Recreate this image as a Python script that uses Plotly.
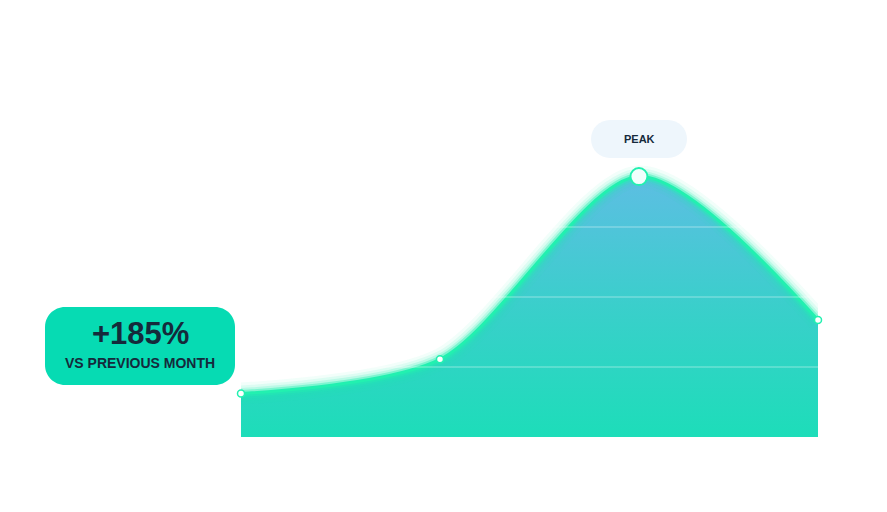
import plotly.graph_objects as go

# ---- data ----
days = [1, 11, 21, 30]
values = [62, 111, 372, 167]
grid_values = [100, 200, 300]
badge_main = "+185%"
badge_sub = "VS PREVIOUS MONTH"
peak_label = "PEAK"

# ---- layout geometry (pixels, page is offset by 8px) ----
OFF = 8
W_FIG, H_FIG = 887, 512
L, R = 241 - OFF, 818 - OFF      # plot area left/right px
T, B = 87 - OFF, 437 - OFF       # plot area top/bottom px
Y_MAX = 500
SMOOTH = 0.8

def px_x(px):
    return (px - OFF - L) / (R - L)

def px_y(py):
    return (B - (py - OFF)) / (B - T)

def rounded_rect(x0, y0, x1, y1, r):
    k = 0.5523 * r
    def P(x, y):
        return f"{px_x(x):.5f},{px_y(y):.5f}"
    p = f"M {P(x0 + r, y0)} L {P(x1 - r, y0)} "
    p += f"C {P(x1 - r + k, y0)} {P(x1, y0 + r - k)} {P(x1, y0 + r)} "
    p += f"L {P(x1, y1 - r)} "
    p += f"C {P(x1, y1 - r + k)} {P(x1 - r + k, y1)} {P(x1 - r, y1)} "
    p += f"L {P(x0 + r, y1)} "
    p += f"C {P(x0 + r - k, y1)} {P(x0, y1 - r + k)} {P(x0, y1 - r)} "
    p += f"L {P(x0, y0 + r)} "
    p += f"C {P(x0, y0 + r - k)} {P(x0 + r - k, y0)} {P(x0 + r, y0)} Z"
    return p

peak_i = values.index(max(values))
LINE = "#22F0B0"

fig = go.Figure()

# filled area with vertical gradient
fig.add_trace(go.Scatter(
    x=days, y=values, mode="lines", fill="tozeroy",
    line=dict(shape="spline", smoothing=SMOOTH, width=0, color="rgba(0,0,0,0)"),
    fillgradient=dict(type="vertical", start=0, stop=max(values),
                      colorscale=[[0, "#1DDDB9"], [0.5, "#3ACFCB"], [1, "#5DBEE3"]]),
    hoverinfo="skip", showlegend=False,
))

# glow layers
for w, a in [(22, 0.06), (16, 0.10), (11, 0.18), (7, 0.40)]:
    fig.add_trace(go.Scatter(
        x=days, y=values, mode="lines",
        line=dict(shape="spline", smoothing=SMOOTH, width=w, color=f"rgba(34,240,176,{a})"),
        hoverinfo="skip", showlegend=False,
    ))
# core line
fig.add_trace(go.Scatter(
    x=days, y=values, mode="lines",
    line=dict(shape="spline", smoothing=SMOOTH, width=3, color=LINE),
    hoverinfo="skip", showlegend=False,
))

# markers
sizes = [17 if i == peak_i else 7 for i in range(len(values))]
fills = ["#F2FFFD" if i == peak_i else "#FFFFFF" for i in range(len(values))]
lws = [2 if i == peak_i else 1.5 for i in range(len(values))]
fig.add_trace(go.Scatter(
    x=days, y=values, mode="markers", cliponaxis=False,
    marker=dict(size=sizes, color=fills, opacity=1, line=dict(color=LINE, width=lws)),
    hoverinfo="skip", showlegend=False,
))

shapes = []
for gv in grid_values:
    shapes.append(dict(type="line", xref="paper", yref="y", x0=0, x1=1, y0=gv, y1=gv,
                       line=dict(color="rgba(255,255,255,0.22)", width=2), layer="above"))
# badge
shapes.append(dict(type="path", xref="paper", yref="paper",
                   path=rounded_rect(45, 307, 235, 385, 20),
                   fillcolor="#06DBB3", line=dict(width=0), layer="above"))
# peak pill
shapes.append(dict(type="path", xref="paper", yref="paper",
                   path=rounded_rect(591, 120, 687, 158, 19),
                   fillcolor="#EEF6FC", line=dict(width=0), layer="above"))

FONT = "Liberation Sans"
TXT = "#152A3B"
annotations = [
    dict(x=px_x(140), y=px_y(333), xref="paper", yref="paper", text=f"<b>{badge_main}</b>",
         showarrow=False, font=dict(family=FONT, size=31, color=TXT), xanchor="center", yanchor="middle"),
    dict(x=px_x(140), y=px_y(363), xref="paper", yref="paper", text=f"<b>{badge_sub}</b>",
         showarrow=False, font=dict(family=FONT, size=14, color=TXT), xanchor="center", yanchor="middle"),
    dict(x=px_x(639), y=px_y(139), xref="paper", yref="paper", text=f"<b>{peak_label}</b>",
         showarrow=False, font=dict(family=FONT, size=11, color=TXT), xanchor="center", yanchor="middle"),
]

fig.update_layout(
    width=W_FIG, height=H_FIG,
    margin=dict(l=L, r=W_FIG - R, t=T, b=H_FIG - B, pad=0),
    paper_bgcolor="white", plot_bgcolor="white",
    xaxis=dict(range=[days[0], days[-1]], visible=False, fixedrange=True),
    yaxis=dict(range=[0, Y_MAX], visible=False, fixedrange=True),
    shapes=shapes, annotations=annotations, showlegend=False,
)

fig.write_html("out.html")
